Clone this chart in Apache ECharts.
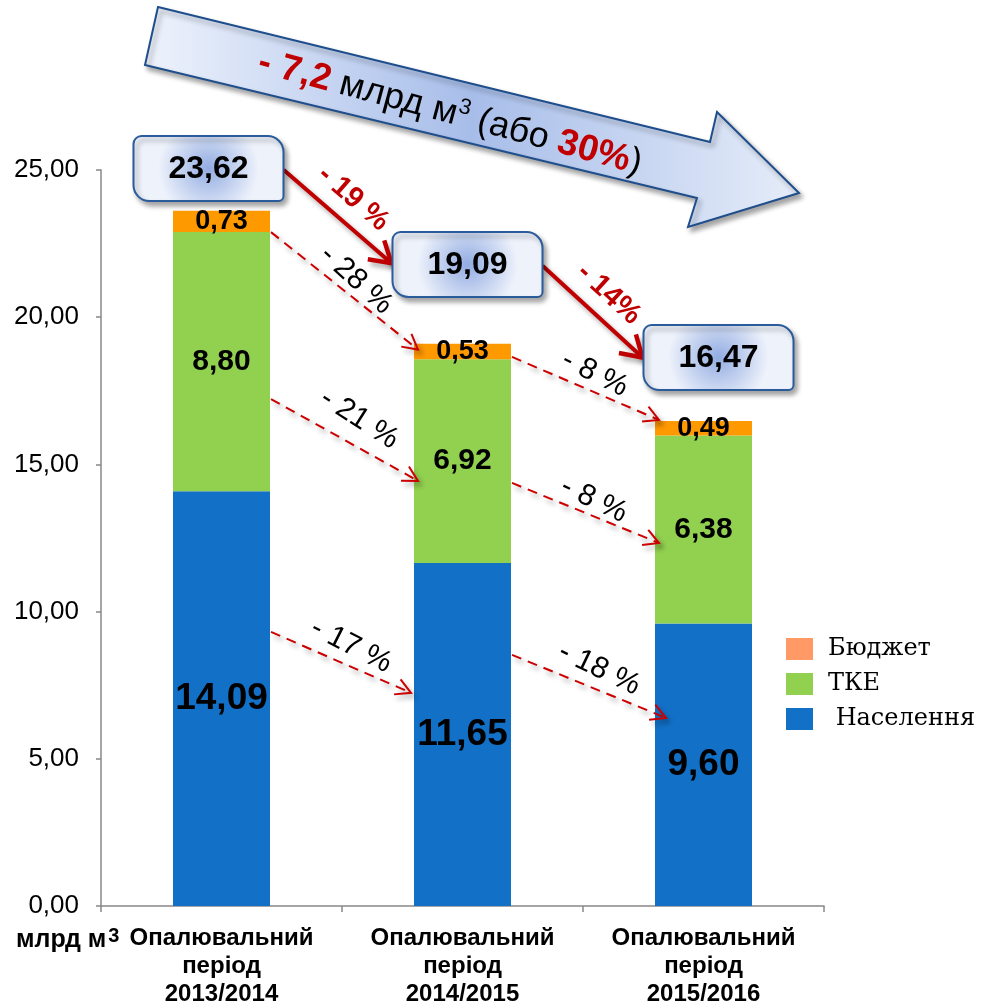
<!DOCTYPE html>
<html><head><meta charset="utf-8">
<script src="https://cdn.jsdelivr.net/npm/echarts@6/dist/echarts.min.js"></script>
<style>html,body{margin:0;padding:0;background:#fff}#c{width:983px;height:1003px}</style>
</head><body><div id="c"></div>
<script>
// ---- data ----
const categories = ['Опалювальний\nперіод\n2013/2014', 'Опалювальний\nперіод\n2014/2015', 'Опалювальний\nперіод\n2015/2016'];
const population = [14.09, 11.65, 9.60];
const tke = [8.80, 6.92, 6.38];
const budget = [0.73, 0.53, 0.49];
const totals = [23.62, 19.09, 16.47];
const yMin = 0, yMax = 25, yStep = 5;
const unitLabel = ['млрд м', '3'];
// total-change arrows (between total boxes)
const totalChangeLabels = ['- 19 %', '- 14%'];
// segment-change dashed arrows: [fromCat, fromValue] -> [toCat, toValue]
const segChangeFrom = [[0, 22.89], [0, 17.22], [0, 9.31], [1, 18.65], [1, 14.37], [1, 8.53]];
const segChangeTo   = [[1, 18.90], [1, 14.44], [1, 7.24], [2, 16.51], [2, 12.33], [2, 6.39]];
const segChangeLabels = ['- 28 %', '- 21 %', '- 17 %', '- 8 %', '- 8 %', '- 18 %'];
const bigArrowParts = ['- 7,2', ' млрд м', '3', ' (або ', '30%', ')'];

const FONT = "'Liberation Sans', Arial, sans-serif";
const fmt = v => Number(v).toFixed(2).replace('.', ',');

const chart = echarts.init(document.getElementById('c'), null, {renderer: 'canvas'});
const base = {
  animation: false,
  backgroundColor: '#fff',
  grid: {left: 101, right: 159, top: 170, bottom: 97, containLabel: false, outerBoundsMode: 'none'},
  legend: {
    orient: 'vertical', left: 781, top: 632, itemGap: 11,
    itemWidth: 27, itemHeight: 22, icon: 'rect',
    data: [{name: 'Бюджет', itemStyle: {color: '#FF9966'}}, {name: 'ТКЕ'}, {name: 'Населення'}],
    formatter: n => n === 'Населення' ? ' ' + n : n,
    textStyle: {fontFamily: "'DejaVu Serif', serif", fontSize: 24, color: '#000', padding: [0, 0, 0, 10]}
  },
  xAxis: {
    type: 'category', data: categories,
    axisLine: {lineStyle: {color: '#888', width: 1.5}},
    axisTick: {show: true, length: 6, lineStyle: {color: '#888', width: 1.5}},
    axisLabel: {interval: 0, margin: 18, fontFamily: FONT, fontWeight: 'bold', fontSize: 24, lineHeight: 28, color: '#000'}
  },
  yAxis: {
    type: 'value', min: yMin, max: yMax, interval: yStep,
    axisLine: {show: true, lineStyle: {color: '#888', width: 1.5}},
    axisTick: {show: true, length: 5, lineStyle: {color: '#888', width: 1.5}},
    splitLine: {show: false},
    axisLabel: {margin: 22, fontFamily: FONT, fontSize: 26, color: '#000', formatter: v => fmt(v)}
  },
  series: [
    {name: 'Населення', type: 'bar', stack: 's', data: population, barWidth: 97,
     itemStyle: {color: '#1270C6'},
     label: {show: true, position: 'inside', formatter: p => fmt(p.value), fontFamily: FONT, fontWeight: 'bold', fontSize: 37, color: '#000'}},
    {name: 'ТКЕ', type: 'bar', stack: 's', data: tke, barWidth: 97,
     itemStyle: {color: '#92D050'},
     label: {show: true, position: 'inside', formatter: p => fmt(p.value), fontFamily: FONT, fontWeight: 'bold', fontSize: 30, color: '#000'}},
    {name: 'Бюджет', type: 'bar', stack: 's', data: budget, barWidth: 97,
     itemStyle: {color: '#FF9900'},
     label: {show: true, position: 'inside', formatter: p => fmt(p.value), fontFamily: FONT, fontWeight: 'bold', fontSize: 27, color: '#000'}}
  ]
};
chart.setOption(base);

const P = (cat, v) => chart.convertToPixel({gridIndex: 0}, [cat, v]);
const half = 97 / 2;

function headPts(x1, y1, x2, y2, len, ang) {
  const a = Math.atan2(y2 - y1, x2 - x1);
  return [[x2 - len * Math.cos(a - ang), y2 - len * Math.sin(a - ang)], [x2, y2],
          [x2 - len * Math.cos(a + ang), y2 - len * Math.sin(a + ang)]];
}
const shadow = {shadowBlur: 5, shadowOffsetX: 3, shadowOffsetY: 4, shadowColor: 'rgba(0,0,0,0.35)'};
const g = [];

// big arrow (decorative)
g.push({type: 'polygon', z: 50,
  shape: {points: [[158, 7], [710, 142], [717, 112], [799, 193], [688, 227], [697, 198], [145, 65]]},
  style: Object.assign({fill: {type: 'linear', x: 0, y: 0, x2: 1, y2: 0, colorStops: [
    {offset: 0, color: '#EEF3FC'}, {offset: 0.5, color: '#A7BDE9'}, {offset: 1, color: '#E6EDF9'}]},
    stroke: '#1F4E8C', lineWidth: 2}, shadow)});
g.push({type: 'text', z: 51, x: 450, y: 113, rotation: -0.262,
  style: {text: '{r|' + bigArrowParts[0] + '}{k|' + bigArrowParts[1] + '}{s|' + bigArrowParts[2] + '}{k|' + bigArrowParts[3] + '}{r|' + bigArrowParts[4] + '}{k|' + bigArrowParts[5] + '}',
    align: 'center', verticalAlign: 'middle',
    rich: {r: {fontFamily: FONT, fontWeight: 'bold', fontSize: 37, fill: '#C00000', lineHeight: 40},
           k: {fontFamily: FONT, fontSize: 36, fill: '#000', lineHeight: 40},
           s: {fontFamily: FONT, fontSize: 22, fill: '#000', verticalAlign: 'top', lineHeight: 40, padding: [0, 0, 14, 0]}}}});

// total boxes
const boxDx = [-13, 5, 15];
const boxDv = [1.43, 2.70, 2.16];
const boxRects = [];
totals.forEach((t, i) => {
  const c = P(i, t + boxDv[i]);
  const cx = c[0] + boxDx[i], cy = c[1];
  const w = 150, h = 65;
  boxRects.push([cx - w / 2, cy - h / 2, w, h]);
  g.push({type: 'rect', z: 60, shape: {x: cx - w / 2, y: cy - h / 2, width: w, height: h, r: [8, 16, 5, 16]},
    style: Object.assign({fill: {type: 'radial', x: 0.5, y: 0.5, r: 0.75, colorStops: [
      {offset: 0, color: '#92ACE2'}, {offset: 1, color: '#EEF2FB'}]}, stroke: '#2A5B9B', lineWidth: 2}, shadow)});
  g.push({type: 'text', z: 61, x: cx, y: cy + 1,
    style: {text: fmt(t), fontFamily: FONT, fontWeight: 'bold', fontSize: 32, fill: '#000', align: 'center', verticalAlign: 'middle'}});
});

// total change arrows (solid red)
totalChangeLabels.forEach((lab, i) => {
  const b1 = boxRects[i], b2 = boxRects[i + 1];
  const x1 = b1[0] + b1[2], y1 = b1[1] + b1[3] * 0.52;
  const x2 = b2[0] - 1, y2 = b2[1] + b2[3] * (i === 0 ? 0.48 : 0.5);
  g.push({type: 'line', z: 55, shape: {x1, y1, x2, y2},
    style: Object.assign({stroke: '#C00000', lineWidth: 4}, shadow)});
  g.push({type: 'polyline', z: 55, shape: {points: headPts(x1, y1, x2, y2, 24, 0.55)},
    style: Object.assign({stroke: '#C00000', lineWidth: 4.5, fill: null}, shadow)});
  const a = Math.atan2(y2 - y1, x2 - x1);
  const mx = (x1 + x2) / 2 + 24 * Math.sin(a), my = (y1 + y2) / 2 - 24 * Math.cos(a);
  g.push({type: 'text', z: 56, x: mx, y: my, rotation: -a,
    style: {text: lab, fontFamily: FONT, fontWeight: 'bold', fontSize: 29, fill: '#C00000', align: 'center', verticalAlign: 'middle'}});
});

// segment change arrows (dashed red)
const segLabelOffset = [14, 24, 18, 16, 14, 19];
const segEndDx = [4, 4, -3, 4, 4, 11];
segChangeLabels.forEach((lab, i) => {
  const f = segChangeFrom[i], t = segChangeTo[i];
  const pf = P(f[0], f[1]), pt = P(t[0], t[1]);
  const x1 = pf[0] + half + 1, y1 = pf[1];
  const x2 = pt[0] - half + segEndDx[i], y2 = pt[1];
  g.push({type: 'line', z: 40, shape: {x1, y1, x2, y2},
    style: Object.assign({stroke: '#CC0000', lineWidth: 2, lineDash: [10, 7]}, shadow)});
  g.push({type: 'polyline', z: 40, shape: {points: headPts(x1, y1, x2, y2, 17, 0.5)},
    style: Object.assign({stroke: '#CC0000', lineWidth: 2, fill: null}, shadow)});
  const a = Math.atan2(y2 - y1, x2 - x1);
  const o = segLabelOffset[i];
  const mx = (x1 + x2) / 2 + o * Math.sin(a) + 3, my = (y1 + y2) / 2 - o * Math.cos(a);
  g.push({type: 'text', z: 41, x: mx, y: my, rotation: -a - 0.06,
    style: {text: lab, fontFamily: FONT, fontSize: 30, fill: '#000', align: 'center', verticalAlign: 'middle'}});
});

// unit label
const p0 = P(0, 0);
g.push({type: 'text', z: 10, x: 16, y: p0[1] + 34,
  style: {text: '{a|' + unitLabel[0] + '}{b|' + unitLabel[1] + '}', align: 'left', verticalAlign: 'middle',
    rich: {a: {fontFamily: FONT, fontWeight: 'bold', fontSize: 25, fill: '#000', lineHeight: 28},
           b: {fontFamily: FONT, fontWeight: 'bold', fontSize: 20, fill: '#000', verticalAlign: 'top', lineHeight: 28, padding: [0, 0, 8, 2]}}}});

chart.setOption({graphic: g});
</script></body></html>
